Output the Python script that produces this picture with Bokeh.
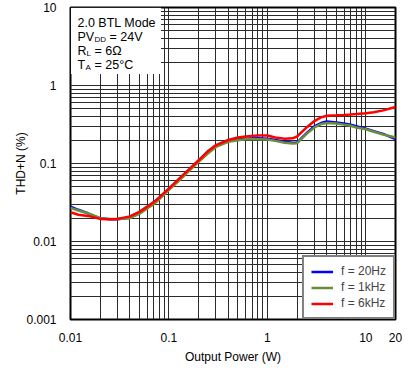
from bokeh.plotting import figure
from bokeh.models import (FixedTicker, CustomJSTickFormatter, BoxAnnotation, Label,
                          Legend, LegendItem, Range1d)
from bokeh.embed import file_html
from bokeh.resources import INLINE

# ---- data ----
power_w = [0.01, 0.012, 0.015, 0.02, 0.025, 0.03, 0.04, 0.05, 0.06, 0.07, 0.08,
           0.1, 0.13, 0.15, 0.2, 0.25, 0.3, 0.4, 0.5, 0.6, 0.8, 1.0, 1.2, 1.5,
           1.8, 2.0, 2.5, 3.0, 3.5, 4.0, 5.0, 6.0, 7.0, 8.0, 10, 12, 15, 20]

thd_20hz = [0.028, 0.0255, 0.023, 0.0198, 0.0193, 0.0193, 0.0202, 0.0232, 0.0272,
            0.031, 0.036, 0.047, 0.064, 0.076, 0.107, 0.139, 0.167, 0.195, 0.203,
            0.208, 0.21, 0.208, 0.2, 0.19, 0.185, 0.185, 0.245, 0.3, 0.33, 0.345,
            0.335, 0.325, 0.315, 0.3, 0.28, 0.26, 0.24, 0.205]

thd_1khz = [0.027, 0.025, 0.023, 0.0199, 0.0195, 0.0194, 0.0199, 0.0226, 0.0265,
            0.030, 0.035, 0.046, 0.062, 0.074, 0.105, 0.135, 0.163, 0.19, 0.198,
            0.204, 0.205, 0.203, 0.195, 0.185, 0.18, 0.182, 0.24, 0.29, 0.32, 0.33,
            0.325, 0.315, 0.305, 0.29, 0.275, 0.255, 0.235, 0.215]

thd_6khz = [0.0237, 0.022, 0.0213, 0.0195, 0.0193, 0.0195, 0.021, 0.024, 0.028,
            0.032, 0.037, 0.048, 0.066, 0.078, 0.11, 0.145, 0.172, 0.2, 0.215,
            0.222, 0.228, 0.228, 0.215, 0.207, 0.21, 0.222, 0.29, 0.35, 0.39, 0.41,
            0.415, 0.42, 0.425, 0.43, 0.44, 0.455, 0.48, 0.53]

series_labels = ["f = 20Hz", "f = 1kHz", "f = 6kHz"]
series_colors = ["#0000FF", "#6B8E3A", "#FF0000"]

x_major_ticks = [0.01, 0.1, 1, 10, 20]
y_major_ticks = [0.001, 0.01, 0.1, 1, 10]

FONT = "Liberation Sans"

p = figure(width=403, height=366, x_axis_type="log", y_axis_type="log",
           x_range=Range1d(0.01, 20), y_range=Range1d(0.001, 10),
           output_backend="svg", toolbar_location=None,
           min_border_left=70, min_border_right=8, min_border_top=7,
           min_border_bottom=36)

x_minor = [m * d for d in (0.01, 0.1, 1) for m in range(2, 10)]
y_minor = [m * d for d in (0.001, 0.01, 0.1, 1) for m in range(2, 10)]
p.xaxis.ticker = FixedTicker(ticks=x_major_ticks, minor_ticks=x_minor)
p.yaxis.ticker = FixedTicker(ticks=y_major_ticks, minor_ticks=y_minor)
p.xaxis.formatter = CustomJSTickFormatter(code="return tick.toString();")
p.yaxis.formatter = CustomJSTickFormatter(code="return tick.toString();")

for ax in (p.xaxis, p.yaxis):
    ax.axis_line_color = None
    ax.major_tick_line_color = None
    ax.minor_tick_line_color = None
    ax.major_label_text_font = FONT
    ax.major_label_text_font_size = "12px"
    ax.major_label_text_color = "#000000"
    ax.axis_label_text_font = FONT
    ax.axis_label_text_font_size = "12px"
    ax.axis_label_text_font_style = "normal"
    ax.axis_label_text_color = "#000000"

p.xaxis.axis_label = "Output Power (W)"
p.yaxis.axis_label = "THD+N (%)"
p.xaxis.major_label_standoff = 7
p.yaxis.major_label_standoff = 8
p.xaxis.axis_label_standoff = 5
p.yaxis.axis_label_standoff = -5

for g in (p.xgrid, p.ygrid):
    g.grid_line_color = "#2b2b2b"
    g.grid_line_width = 1
    g.minor_grid_line_color = "#2b2b2b"
    g.minor_grid_line_width = 1

p.outline_line_color = "#000000"
p.outline_line_width = 2
p.background_fill_color = "white"

renderers = []
for ys, c in zip((thd_20hz, thd_1khz, thd_6khz), series_colors):
    r = p.line(power_w, ys, line_color=c, line_width=2.5)
    renderers.append(r)

legend = Legend(items=[LegendItem(label=l, renderers=[r]) for l, r in zip(series_labels, renderers)],
                location="bottom_right", margin=0, padding=7, spacing=2,
                label_standoff=8, glyph_width=22, glyph_height=13, label_height=13,
                label_text_font=FONT, label_text_font_size="12px",
                border_line_color="#000000", border_line_width=2,
                background_fill_alpha=1.0)
p.add_layout(legend)

# white box behind condition text
p.add_layout(BoxAnnotation(left=0.0101, right=0.083, bottom=1.4, top=9.9,
                           fill_color="white", fill_alpha=1.0, line_color=None,
                           level="underlay"))

def lab(text, xo, yo, size="12.5px"):
    p.add_layout(Label(x=0.01, y=10, x_offset=xo, y_offset=yo, text=text,
                       text_font=FONT, text_font_size=size, text_color="#000000",
                       text_baseline="middle", text_align="left"))

lab("2.0 BTL Mode", 7, -15)
lab("PV", 7, -29)
lab("DD", 24, -32, "8px")
lab("= 24V", 39, -29)
lab("R", 7, -43)
lab("L", 16, -46, "8px")
lab("= 6Ω", 24, -43)
lab("T", 7, -57)
lab("A", 15, -60, "8px")
lab("= 25°C", 24, -57)

p.add_layout(Label(x=20, y=0.001, x_offset=6, y_offset=-31, text="G020",
                   text_font=FONT, text_font_size="7px", text_color="#999999",
                   text_baseline="middle", text_align="right"))

open("out.html", "w").write(file_html(p, INLINE))
